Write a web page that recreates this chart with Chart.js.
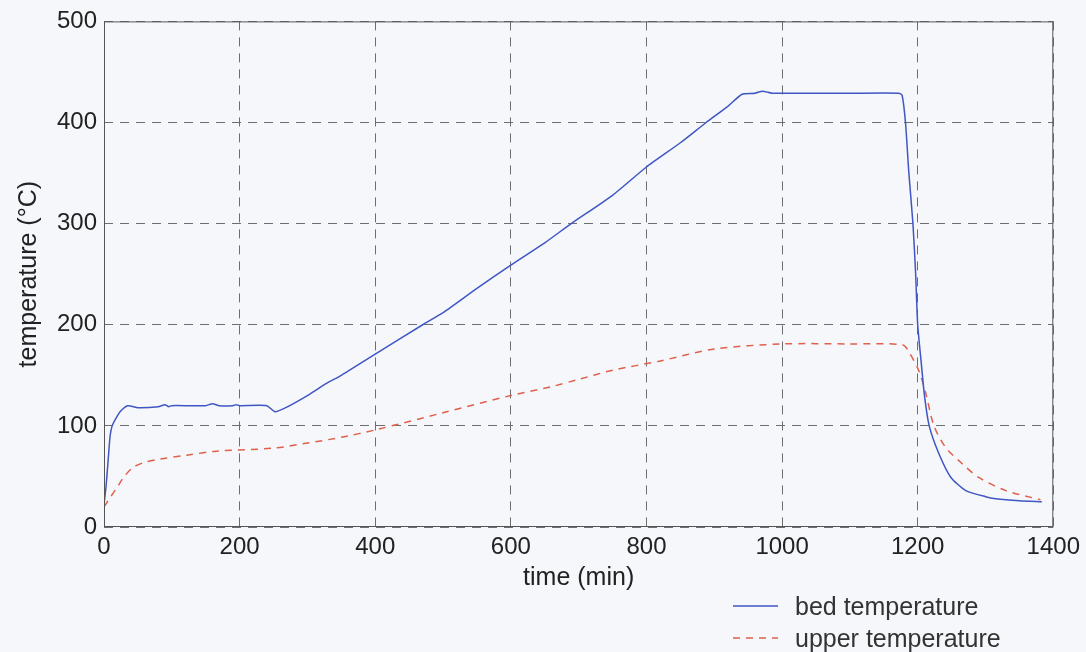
<!DOCTYPE html>
<html>
<head>
<meta charset="utf-8">
<script src="https://cdn.jsdelivr.net/npm/chart.js@4/dist/chart.umd.min.js"></script>
<style>
  html, body { margin: 0; padding: 0; background: #f5f7fa; }
  #wrap { position: relative; width: 1086px; height: 652px; }
  #legend { position: absolute; left: 733px; top: 590px; font: 25px "Liberation Sans", Arial, sans-serif; color: #333; }
  .row { display: flex; align-items: center; height: 32px; }
  .row svg { margin-right: 17px; }
</style>
</head>
<body>
<div id="wrap">
  <canvas id="chart" width="1086" height="652"></canvas>
  <div id="legend">
    <div class="row"><svg width="45" height="4"><line x1="0" y1="2" x2="45" y2="2" stroke="#3f56c4" stroke-width="1.5"/></svg>bed temperature</div>
    <div class="row"><svg width="45" height="4"><line x1="0" y1="2" x2="45" y2="2" stroke="#e0604c" stroke-width="1.5" stroke-dasharray="7 6"/></svg>upper temperature</div>
  </div>
</div>
<script>
// ── Data ─────────────────────────────────────────────────────────────────────

const BED_T = [0, 3, 6, 9, 12, 18, 25, 35, 50, 80, 90, 95, 100, 150, 160, 170, 190, 195, 200, 240,
  252, 265, 300, 328, 350, 400, 470, 500, 550, 600, 650, 689, 750, 800, 850, 888, 920, 941, 960, 971,
  985, 1000, 1100, 1172, 1177, 1182, 1187, 1193, 1197, 1200, 1205, 1210, 1217, 1231, 1249, 1271,
  1300, 1315, 1350, 1383];
const BED = [22, 40, 65, 90, 100, 108, 115, 120, 118, 119, 121, 119, 120, 120, 122, 120, 120, 121, 120, 120,
  114, 117, 130, 142, 150, 171, 200, 212, 236, 259, 281, 300, 328, 356, 380, 400, 416, 428, 429, 431,
  429, 429, 429, 429, 427, 400, 350, 300, 250, 200, 164, 130, 100, 73, 49, 36,
  30, 28, 26, 25];

const UP_T = [0, 10, 20, 30, 43, 60, 82, 122, 166, 250, 300, 352, 400, 500, 600, 661, 700, 750, 819, 900,
  1000, 1100, 1178, 1188, 1202, 1212, 1224, 1241, 1265, 1290, 1330, 1381];
const UPPER = [20, 30, 40, 50, 59, 64, 67, 71, 75, 78, 83, 89, 96, 113, 130, 139, 146, 155, 164, 176,
  181, 181, 180, 172, 154, 132, 100, 79, 63, 49, 36, 27];

const X_MAX = 1400;
const Y_MAX = 500;

const C_BED   = '#3f56c4';
const C_UPPER = '#e0604c';
const C_GRID  = '#6e6e6e';
const C_AXIS  = '#555';
const C_TEXT  = '#222';
const FONT    = '"Liberation Sans", Arial, sans-serif';

function points(xs, ys) { return xs.map((x, i) => ({ x, y: ys[i] })); }

// box round the plot, like the original
const frame = {
  id: 'frame',
  afterDraw(chart) {
    const { ctx, chartArea: a } = chart;
    ctx.save();
    ctx.strokeStyle = C_AXIS;
    ctx.lineWidth = 1;
    ctx.strokeRect(a.left + 0.5, a.top + 0.5, a.right - a.left - 1, a.bottom - a.top - 1);
    ctx.restore();
  }
};

new Chart(document.getElementById('chart'), {
  type: 'line',
  data: {
    datasets: [
      {
        label: 'bed temperature',
        data: points(BED_T, BED),
        borderColor: C_BED,
        borderWidth: 1.5,
        pointRadius: 0,
        tension: 0.2,
      },
      {
        label: 'upper temperature',
        data: points(UP_T, UPPER),
        borderColor: C_UPPER,
        borderWidth: 1.5,
        borderDash: [7, 6],
        pointRadius: 0,
        tension: 0.3,
      }
    ]
  },
  options: {
    responsive: false,
    animation: false,
    devicePixelRatio: 1,
    layout: { padding: { top: 19, right: 31, bottom: 55, left: 0 } },
    plugins: { legend: { display: false }, tooltip: { enabled: false } },
    scales: {
      x: {
        type: 'linear', min: 0, max: X_MAX,
        ticks: { stepSize: 200, color: C_TEXT, padding: 6, maxRotation: 0, callback: v => String(v), font: { family: FONT, size: 24 } },
        grid: { color: C_GRID, drawTicks: false },
        border: { display: false, dash: [9, 7] },
        title: { display: true, text: 'time (min)', color: C_TEXT, font: { family: FONT, size: 25 }, padding: { top: 0, bottom: 4 } },
        afterFit(s) { s.height = 70; }
      },
      y: {
        min: 0, max: Y_MAX,
        ticks: { stepSize: 100, color: C_TEXT, padding: 7, font: { family: FONT, size: 24 } },
        grid: { color: C_GRID, drawTicks: false },
        border: { display: false, dash: [9, 7] },
        title: { display: true, text: 'temperature (\u00B0C)', color: C_TEXT, font: { family: FONT, size: 25 }, padding: { top: 14, bottom: 0 } },
        afterFit(s) { s.width = 104; }
      }
    }
  },
  plugins: [frame]
});
</script>
</body>
</html>
